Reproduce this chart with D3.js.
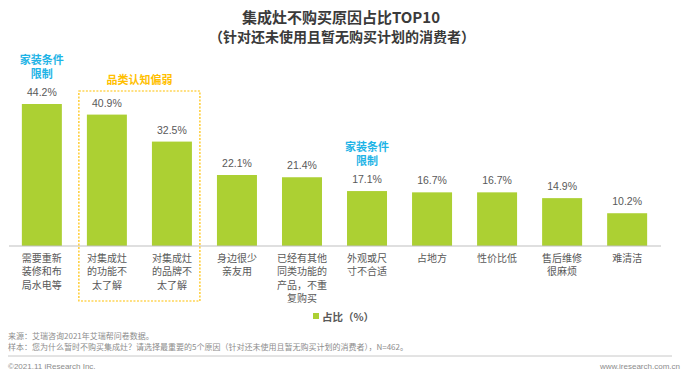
<!DOCTYPE html>
<meta charset="utf-8">
<head>
    <style>
        body { margin: 0; background: #fff; }
        text { font-family: "Noto Sans CJK SC", "Liberation Sans", sans-serif; }
    </style>
    <script src="https://d3js.org/d3.v7.min.js"></script>
</head>
<body></body>
<script>

    var width = 692,
        height = 376;

    // categories (pre-wrapped the way the picture shows them)
    var categories = [
        ["需要重新", "装修和布", "局水电等"],
        ["对集成灶", "的功能不", "太了解"],
        ["对集成灶", "的品牌不", "太了解"],
        ["身边很少", "亲友用"],
        ["已经有其他", "同类功能的", "产品，不重", "复购买"],
        ["外观或尺", "寸不合适"],
        ["占地方"],
        ["性价比低"],
        ["售后维修", "很麻烦"],
        ["难清洁"]
    ];
    var shares = [44.2, 40.9, 32.5, 22.1, 21.4, 17.1, 16.7, 16.7, 14.9, 10.2];

    var titleLines = ["集成灶不购买原因占比TOP10", "（针对还未使用且暂无购买计划的消费者）"];
    var legendLabel = "占比（%）";
    var notes = [
        "来源：艾瑞咨询2021年艾瑞帮问卷数据。",
        "样本：您为什么暂时不购买集成灶？请选择最重要的5个原因（针对还未使用且暂无购买计划的消费者），N=462。"
    ];

    var green = "#acd033",
        cyan = "#1fb4e6",
        gold = "#ffc000";

    var svg = d3.select("body").append("svg")
        .attr("width", width)
        .attr("height", height);

    var x = d3.scaleBand()
        .domain(d3.range(categories.length))
        .range([9.5, 659.5])
        .paddingInner(0.385)
        .paddingOuter(0.19);

    var y = d3.scaleLinear()
        .domain([0, 44.2])
        .range([246, 104]);

    // title
    svg.append("text")
        .attr("x", 341).attr("y", 23)
        .attr("text-anchor", "middle")
        .style("font-size", "15px").style("font-weight", "bold")
        .style("fill", "#3a3a3a")
        .text(titleLines[0]);
    svg.append("text")
        .attr("x", 342).attr("y", 42)
        .attr("text-anchor", "middle")
        .style("font-size", "14px").style("font-weight", "bold")
        .style("fill", "#3a3a3a")
        .text(titleLines[1]);

    // bars
    svg.selectAll("rect.bar")
        .data(shares)
      .enter().append("rect")
        .attr("class", "bar")
        .attr("x", function(d, i) { return x(i); })
        .attr("width", x.bandwidth())
        .attr("y", function(d) { return y(d); })
        .attr("height", function(d) { return y(0) - y(d); })
        .style("fill", green);

    // value labels
    svg.selectAll("text.val")
        .data(shares)
      .enter().append("text")
        .attr("class", "val")
        .attr("x", function(d, i) { return x(i) + x.bandwidth() / 2; })
        .attr("y", function(d) { return y(d) - 8; })
        .attr("text-anchor", "middle")
        .style("font-size", "10.5px")
        .style("font-family", "'Liberation Sans', sans-serif")
        .style("fill", "#595959")
        .text(function(d) { return d.toFixed(1) + "%"; });

    // baseline
    svg.append("line")
        .attr("x1", 9).attr("x2", 661)
        .attr("y1", y(0)).attr("y2", y(0))
        .style("stroke", "#bfbfbf").style("stroke-width", 1);

    // category labels
    var cat = svg.selectAll("g.cat")
        .data(categories)
      .enter().append("g")
        .attr("class", "cat")
        .attr("transform", function(d, i) { return "translate(" + (x(i) + x.bandwidth() / 2) + ",0)"; });

    cat.selectAll("text")
        .data(function(d) { return d; })
      .enter().append("text")
        .attr("y", function(d, j) { return 262 + j * 13.3; })
        .attr("text-anchor", "middle")
        .style("font-size", "10px")
        .style("fill", "#595959")
        .text(function(d) { return d; });

    // annotations
    function note(i, lines, top, color) {
        svg.append("g")
            .selectAll("text")
            .data(lines)
          .enter().append("text")
            .attr("x", x(i) + x.bandwidth() / 2)
            .attr("y", function(d, j) { return top + j * 14; })
            .attr("text-anchor", "middle")
            .style("font-size", "11px").style("font-weight", "bold")
            .style("fill", color)
            .text(function(d) { return d; });
    }
    note(0, ["家装条件", "限制"], y(shares[0]) - 40, cyan);
    note(5, ["家装条件", "限制"], y(shares[5]) - 40, cyan);

    // dashed box round the two "认知" bars
    var boxL = x(1) - 8,
        boxR = x(2) + x.bandwidth() + 8;
    svg.append("rect")
        .attr("x", boxL).attr("y", 91)
        .attr("width", boxR - boxL).attr("height", 210)
        .style("fill", "none")
        .style("stroke", gold).style("stroke-width", 1.2)
        .style("stroke-dasharray", "2,1.5");
    svg.append("text")
        .attr("x", (boxL + boxR) / 2).attr("y", 84)
        .attr("text-anchor", "middle")
        .style("font-size", "11px").style("font-weight", "bold")
        .style("fill", gold)
        .text("品类认知偏弱");

    // legend
    svg.append("rect")
        .attr("x", 313).attr("y", 313)
        .attr("width", 6).attr("height", 6)
        .style("fill", green);
    svg.append("text")
        .attr("x", 322).attr("y", 320.5)
        .style("font-size", "10.5px").style("font-weight", "bold")
        .style("fill", "#595959")
        .text(legendLabel);

    // footer
    svg.selectAll("text.note")
        .data(notes)
      .enter().append("text")
        .attr("class", "note")
        .attr("x", 8)
        .attr("y", function(d, i) { return 339 + i * 11; })
        .style("font-size", "8px")
        .style("fill", "#8c8c8c")
        .text(function(d) { return d; });

    svg.append("line")
        .attr("x1", 8).attr("x2", 672)
        .attr("y1", 356).attr("y2", 356)
        .style("stroke", "#c8c8c8").style("stroke-width", 1);

    svg.append("text")
        .attr("x", 8).attr("y", 369)
        .style("font-size", "8px")
        .style("font-family", "'Liberation Sans', sans-serif")
        .style("fill", "#8c8c8c")
        .text("©2021.11 iResearch Inc.");
    svg.append("text")
        .attr("x", 680).attr("y", 369)
        .attr("text-anchor", "end")
        .style("font-size", "8px")
        .style("font-family", "'Liberation Sans', sans-serif")
        .style("fill", "#8c8c8c")
        .text("www.iresearch.com.cn");

</script>
